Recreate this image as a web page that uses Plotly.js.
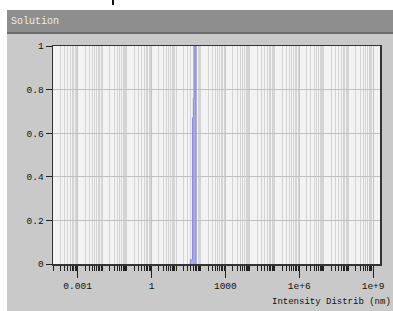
<!DOCTYPE html>
<html>
<head>
<meta charset="utf-8">
<script src="https://cdn.plot.ly/plotly-3.0.1.min.js"></script>
<style>html,body{margin:0;padding:0;background:#fff;}#chart{width:393px;height:311px;}</style>
</head>
<body>
<div id="chart"></div>
<script>
// Data
var sizes = [34, 38, 42, 46, 50, 54, 59, 64, 70];
var intensity = [0, 0.02, 0.02, 0.67, 0.76, 1.0, 1.0, 0, 0];
var xTickVals = [0.001, 1, 1000, 1e6, 1e9];
var xTickText = ['0.001', '1', '1000', '1e+6', '1e+9'];
var yTickVals = [0, 0.2, 0.4, 0.6, 0.8, 1];
var yTickText = ['0', '0.2', '0.4', '0.6', '0.8', '1'];
var panelTitle = 'Solution';
var axisTitle = 'Intensity Distrib (nm)';

var W = 393, H = 311, L = 53, R = 13, T = 46, B = 47;
var pw = W - L - R, ph = H - T - B;
function px(x) { return (x - L) / pw; }
function py(y) { return (H - B - y) / ph; }

var mono = 'Liberation Mono, DejaVu Sans Mono, monospace';

var trace = {
  x: sizes, y: intensity, type: 'scatter', mode: 'lines',
  line: {shape: 'hv', color: '#8a8ad8', width: 1},
  fill: 'tozeroy', fillcolor: 'rgba(150,150,225,0.75)',
  hoverinfo: 'skip'
};

var layout = {
  width: W, height: H,
  margin: {l: L, r: R, t: T, b: B},
  paper_bgcolor: '#c9c9c9',
  plot_bgcolor: '#f3f3f3',
  showlegend: false,
  font: {family: mono, size: 9.5, color: '#111111'},
  xaxis: {
    type: 'log', range: [-4, 9.28],
    tickmode: 'array', tickvals: xTickVals, ticktext: xTickText,
    ticks: 'outside', ticklen: 12, tickwidth: 1, tickcolor: '#222',
    showgrid: true, gridcolor: '#c8c8c8', gridwidth: 1,
    minor: {dtick: 'D1', ticks: 'outside', ticklen: 5, tickcolor: '#222', showgrid: true, gridcolor: '#d4d4d4', gridwidth: 1},
    showline: true, linecolor: '#333333', linewidth: 1.5, mirror: true,
    zeroline: false,
    tickfont: {family: mono, size: 9.5, color: '#111111'}
  },
  yaxis: {
    range: [0, 1], tickmode: 'array', tickvals: yTickVals, ticktext: yTickText,
    ticks: 'outside', ticklen: 6, tickcolor: '#222',
    showgrid: true, gridcolor: '#c0c0c0', gridwidth: 1,
    showline: true, linecolor: '#333333', linewidth: 1.5, mirror: true,
    zeroline: false,
    tickfont: {family: mono, size: 9.5, color: '#111111'}
  },
  shapes: [
    {type: 'rect', xref: 'paper', yref: 'paper', x0: px(0), x1: px(W), y0: py(0), y1: py(10), fillcolor: '#ffffff', line: {width: 0}, layer: 'above'},
    {type: 'rect', xref: 'paper', yref: 'paper', x0: px(0), x1: px(7), y0: py(0), y1: py(H), fillcolor: '#ffffff', line: {width: 0}, layer: 'above'},
    {type: 'rect', xref: 'paper', yref: 'paper', x0: px(7), x1: px(W), y0: py(10), y1: py(32), fillcolor: '#8e8e8e', line: {width: 0}, layer: 'above'},
    {type: 'rect', xref: 'paper', yref: 'paper', x0: px(7), x1: px(W), y0: py(32), y1: py(34), fillcolor: '#6c6c6c', line: {width: 0}, layer: 'above'},
    {type: 'rect', xref: 'paper', yref: 'paper', x0: px(112), x1: px(114), y0: py(0), y1: py(5), fillcolor: '#111111', line: {width: 0}, layer: 'above'}
  ],
  annotations: [
    {text: panelTitle, xref: 'paper', yref: 'paper', x: px(9), y: py(21.5), xanchor: 'left', yanchor: 'middle', showarrow: false,
     font: {family: mono, size: 10, color: '#ececec'}},
    {text: axisTitle, xref: 'paper', yref: 'paper', x: px(393), y: py(302), xanchor: 'right', yanchor: 'middle', showarrow: false,
     font: {family: mono, size: 9, color: '#111111'}}
  ]
};

Plotly.newPlot('chart', [trace], layout, {displayModeBar: false, staticPlot: true});
</script>
</body>
</html>
